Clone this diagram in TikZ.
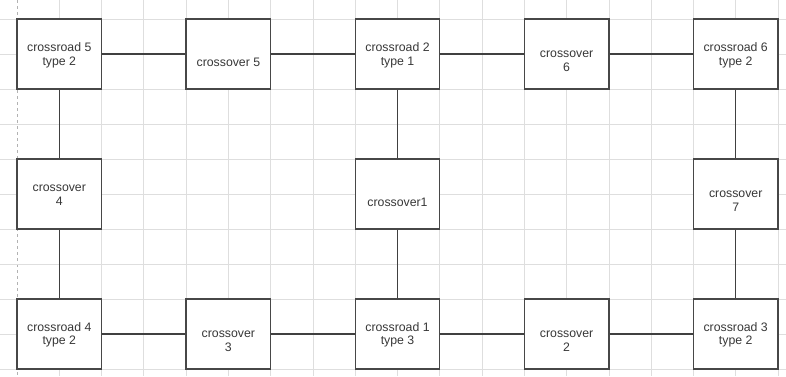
\documentclass[tikz,border=0pt]{standalone}
\usepackage{fontspec}
\setmainfont{Liberation Sans}
\begin{document}
\begin{tikzpicture}[x=1pt,y=-1pt,
  boxst/.style={draw=black!72,line width=1.4pt,fill=white,minimum width=84.56pt,minimum height=70pt,inner sep=0pt},
  txt/.style={font=\fontsize{12.3}{13.5}\selectfont,text=black!78,align=center,inner sep=0pt},
  conn/.style={draw=black!75,line width=1.4pt},
  gridst/.style={draw=black!13,line width=0.8pt}]
\useasboundingbox (0,0) rectangle (786,376);
\begin{scope}
\clip (0,0) rectangle (786,376);
\fill[white] (0,0) rectangle (786,376);
\foreach \k in {1,...,18} \draw[gridst] ({17+42.28*\k},0) -- ({17+42.28*\k},376);
\draw[gridst,dashed,draw=black!30] (17,0) -- (17,376);
\foreach \k in {0,...,10} \draw[gridst] (0,{19+35*\k}) -- (786,{19+35*\k});
\end{scope}
% boxes
\node[boxst] (r5) at (59.28,54) {};
\node[boxst] (c5) at (228.4,54) {};
\node[boxst] (r2) at (397.5,54) {};
\node[boxst] (c6) at (566.6,54) {};
\node[boxst] (r6) at (735.7,54) {};
\node[boxst] (c4) at (59.28,194) {};
\node[boxst] (c1) at (397.5,194) {};
\node[boxst] (c7) at (735.7,194) {};
\node[boxst] (r4) at (59.28,334) {};
\node[boxst] (c3) at (228.4,334) {};
\node[boxst] (r1) at (397.5,334) {};
\node[boxst] (c2) at (566.6,334) {};
\node[boxst] (r3) at (735.7,334) {};
% texts
\node[txt,yshift=-1.5pt] (t-r5) at (r5.center) {crossroad 5\\type 2};
\node[txt,yshift=-8pt] (t-c5) at (c5.center) {crossover 5};
\node[txt,yshift=-1.5pt] (t-r2) at (r2.center) {crossroad 2\\type 1};
\node[txt,yshift=-7pt] (t-c6) at (c6.center) {crossover\\6};
\node[txt,yshift=-1.5pt] (t-r6) at (r6.center) {crossroad 6\\type 2};
\node[txt,yshift=-1pt] (t-c4) at (c4.center) {crossover\\4};
\node[txt,yshift=-8pt] (t-c1) at (c1.center) {crossover1};
\node[txt,yshift=-7pt] (t-c7) at (c7.center) {crossover\\7};
\node[txt,yshift=-1pt] (t-r4) at (r4.center) {crossroad 4\\type 2};
\node[txt,yshift=-7pt] (t-c3) at (c3.center) {crossover\\3};
\node[txt,yshift=-1pt] (t-r1) at (r1.center) {crossroad 1\\type 3};
\node[txt,yshift=-7pt] (t-c2) at (c2.center) {crossover\\2};
\node[txt,yshift=-1pt] (t-r3) at (r3.center) {crossroad 3\\type 2};
% connectors
\draw[conn] (r5) -- (c5);
\draw[conn] (c5) -- (r2);
\draw[conn] (r2) -- (c6);
\draw[conn] (c6) -- (r6);
\draw[conn] (r4) -- (c3);
\draw[conn] (c3) -- (r1);
\draw[conn] (r1) -- (c2);
\draw[conn] (c2) -- (r3);
\draw[conn] (r5) -- (c4);
\draw[conn] (c4) -- (r4);
\draw[conn] (r2) -- (c1);
\draw[conn] (c1) -- (r1);
\draw[conn] (r6) -- (c7);
\draw[conn] (c7) -- (r3);
\end{tikzpicture}
\end{document}
